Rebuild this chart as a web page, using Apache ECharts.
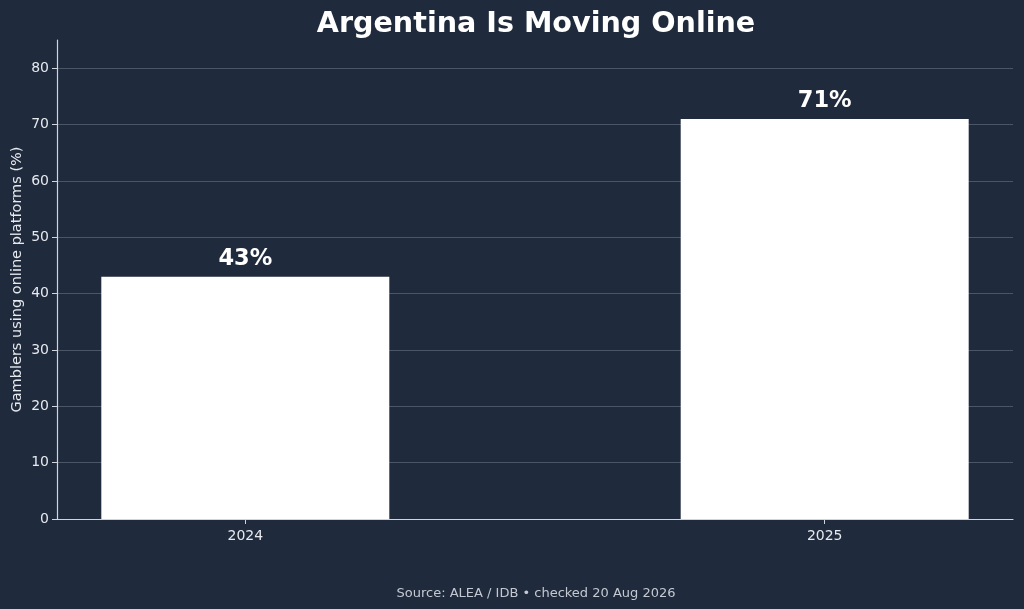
<!DOCTYPE html>
<html>
<head>
<meta charset="utf-8">
<script src="https://cdn.jsdelivr.net/npm/echarts@6/dist/echarts.min.js"></script>
<style>
  html, body { margin: 0; padding: 0; background: #1f2a3c; }
  #chart { width: 1024px; height: 609px; }
</style>
</head>
<body>
<div id="chart"></div>
<script>
// 数据
const years = ['2024', '2025'];
const shares = [43, 71];
const yTicks = [0, 10, 20, 30, 40, 50, 60, 70, 80];

const chart = echarts.init(document.getElementById('chart'));
const font = 'DejaVu Sans';
const axisColor = '#d0d4db';

chart.setOption({
    backgroundColor: '#1f2a3c',
    animation: false,
    title: [{
        text: 'Argentina Is Moving Online',
        left: 531, top: 5, textAlign: 'center',
        textStyle: { color: '#ffffff', fontFamily: font, fontWeight: 'bold', fontSize: 28.6 }
    }, {
        text: 'Source: ALEA / IDB • checked 20 Aug 2026',
        left: 531, top: 582, textAlign: 'center',
        textStyle: { color: '#c4c9d1', fontFamily: font, fontWeight: 'normal', fontSize: 13 }
    }],
    grid: { left: 57, right: 11, top: 40, bottom: 90, outerBoundsMode: 'none' },
    xAxis: {
        type: 'value',
        min: -0.325, max: 1.325,
        splitLine: { show: false },
        axisLine: { show: true, onZero: false, lineStyle: { color: axisColor, width: 1.2 } },
        axisTick: { show: true, customValues: [0, 1], length: 5, lineStyle: { color: axisColor } },
        axisLabel: {
            customValues: [0, 1],
            formatter: v => years[Math.round(v)],
            color: '#e6e9ee', fontFamily: font, fontSize: 14, margin: 10
        }
    },
    yAxis: {
        type: 'value',
        min: 0, max: 85,
        name: 'Gamblers using online platforms (%)',
        nameLocation: 'middle', nameGap: 32, nameMoveOverlap: false,
        nameTextStyle: { color: '#e6e9ee', fontFamily: font, fontSize: 14.5 },
        axisLine: { show: true, onZero: false, lineStyle: { color: axisColor, width: 1.2 } },
        axisTick: { show: true, customValues: yTicks, length: 5, lineStyle: { color: axisColor } },
        axisLabel: { customValues: yTicks, color: '#e6e9ee', fontFamily: font, fontSize: 14, margin: 8 },
        splitLine: { show: true, lineStyle: { color: '#4a5568', width: 1 } }
    },
    series: [{
        type: 'bar',
        data: years.map((y, i) => [i, shares[i]]),
        barWidth: 288,
        itemStyle: { color: '#ffffff' },
        label: {
            show: true, position: 'top', distance: 6,
            formatter: p => p.value[1] + '%',
            color: '#ffffff', fontFamily: font, fontWeight: 'bold', fontSize: 22.5
        }
    }]
});
</script>
</body>
</html>
